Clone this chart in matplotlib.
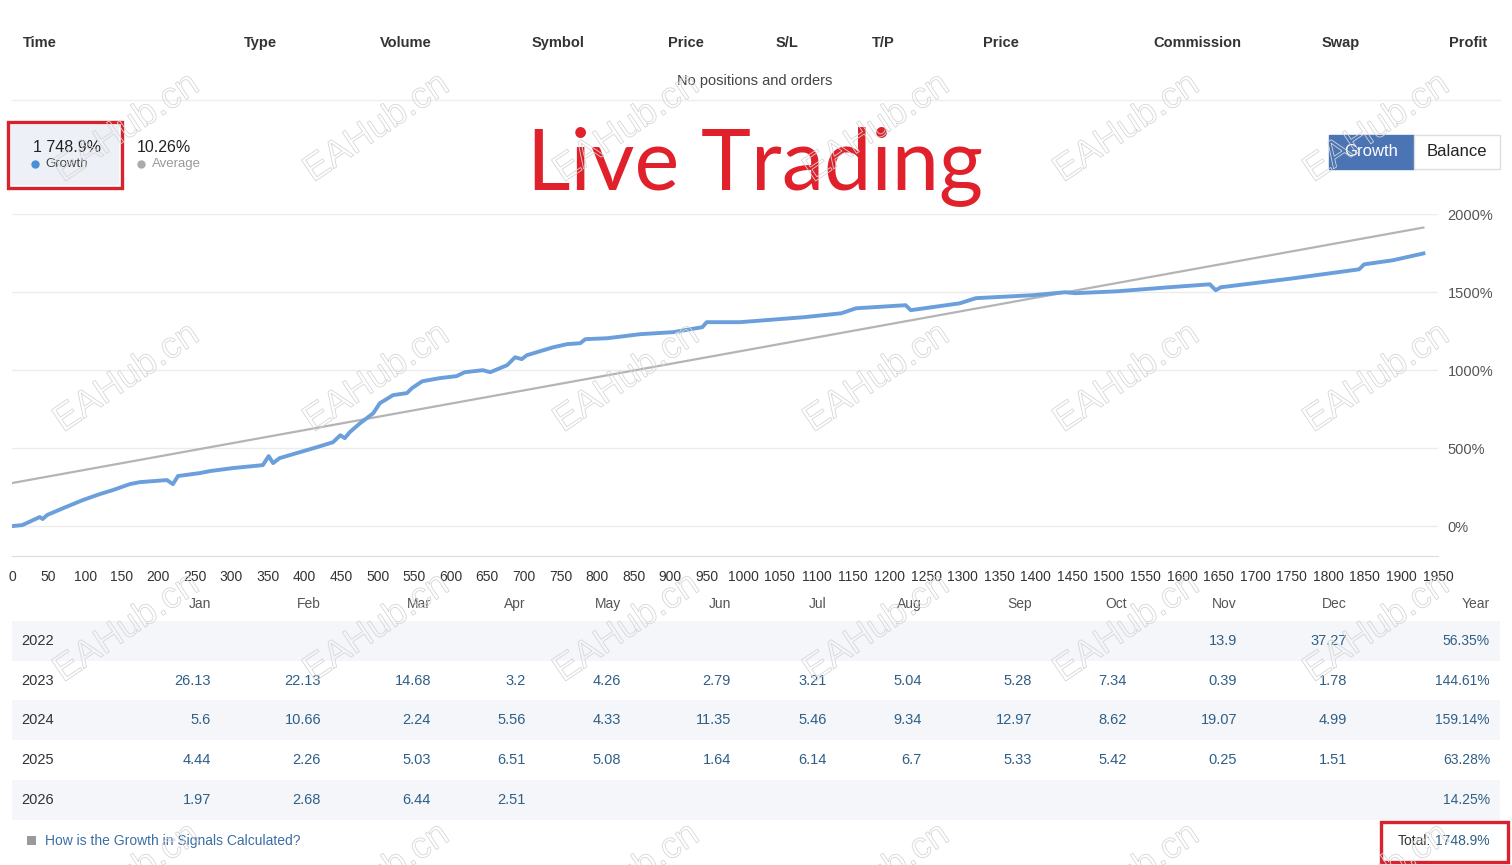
import matplotlib
matplotlib.use("Agg")
import matplotlib.pyplot as plt
from matplotlib import patches, transforms
from matplotlib.textpath import TextPath
from matplotlib.font_manager import FontProperties

# growth curve (x = deal number, y = growth %)
growth_x = [0, 14, 38, 42, 48, 70, 97, 120, 138, 161, 175, 212, 220, 227, 257, 271, 302, 343,
            351, 357, 366, 403, 417, 439, 449, 455, 462, 476, 494, 503, 521, 540, 547, 561,
            585, 608, 619, 644, 654, 677, 688, 697, 704, 740, 759, 777, 784, 814, 859, 904,
            944, 950, 995, 1012, 1083, 1134, 1154, 1222, 1229, 1296, 1318, 1396, 1440, 1454,
            1511, 1582, 1638, 1646, 1653, 1753, 1842, 1849, 1888, 1930]
growth_y = [0, 6, 58, 45, 71, 115, 167, 205, 231, 269, 282, 295, 269, 321, 340, 353, 372, 391,
            449, 404, 436, 487, 506, 538, 583, 564, 603, 660, 724, 788, 840, 853, 885, 929,
            949, 962, 987, 1000, 987, 1032, 1083, 1071, 1096, 1147, 1167, 1173, 1199, 1205,
            1231, 1244, 1276, 1308, 1308, 1314, 1340, 1365, 1397, 1417, 1385, 1429, 1462,
            1481, 1500, 1494, 1506, 1532, 1551, 1513, 1532, 1590, 1647, 1679, 1705, 1749]

# average line
avg_x = [0, 1930]
avg_y = [276, 1915]

x_ticks = list(range(0, 1951, 50))
y_ticks = [0, 500, 1000, 1500, 2000]

trade_cols = ["Time", "Type", "Volume", "Symbol", "Price", "S/L", "T/P", "Price",
              "Commission", "Swap", "Profit"]

months = ["Jan", "Feb", "Mar", "Apr", "May", "Jun", "Jul", "Aug", "Sep", "Oct", "Nov", "Dec"]
years = ["2022", "2023", "2024", "2025", "2026"]
monthly = [
    [None, None, None, None, None, None, None, None, None, None, "13.9", "37.27"],
    ["26.13", "22.13", "14.68", "3.2", "4.26", "2.79", "3.21", "5.04", "5.28", "7.34", "0.39", "1.78"],
    ["5.6", "10.66", "2.24", "5.56", "4.33", "11.35", "5.46", "9.34", "12.97", "8.62", "19.07", "4.99"],
    ["4.44", "2.26", "5.03", "6.51", "5.08", "1.64", "6.14", "6.7", "5.33", "5.42", "0.25", "1.51"],
    ["1.97", "2.68", "6.44", "2.51", None, None, None, None, None, None, None, None],
]
year_totals = ["56.35%", "144.61%", "159.14%", "63.28%", "14.25%"]

W, H = 1512, 865
UI = ["Liberation Sans", "DejaVu Sans"]
VAL_COLOR = "#2f5f86"
RED = "#d8232f"


def fx(x):
    return x / W


def fy(y):
    return 1 - y / H


def rect(x0, y0, x1, y1, **kw):
    r = patches.Rectangle((fx(x0), fy(y1)), fx(x1) - fx(x0), fy(y0) - fy(y1),
                          transform=fig.transFigure, **kw)
    fig.add_artist(r)
    return r


def dot(x, y, color):
    fig.add_artist(plt.Line2D([fx(x)], [fy(y)], marker="o", ms=5, color=color, lw=0,
                              transform=fig.transFigure))


fig = plt.figure(figsize=(W / 100, H / 100), dpi=100)
fig.patch.set_facecolor("white")

# ---- open positions header ----
col_x = [23, 244, 380, 532, 668, 776, 872, 983, 1153, 1322, 1449]
for name, x in zip(trade_cols, col_x):
    fig.text(fx(x), fy(43), name, fontsize=10.5, fontweight="bold", color="#333333",
             ha="left", va="center", family=UI)
fig.text(fx(755), fy(81), "No positions and orders", fontsize=10.5, color="#444444",
         ha="center", va="center", family=UI)
fig.add_artist(plt.Line2D([fx(12), fx(1500)], [fy(100), fy(100)], color="#eeeeee",
                          lw=1, transform=fig.transFigure))

# ---- stat boxes ----
rect(11, 125, 119, 185, facecolor="#edf0f7", edgecolor="none")
rect(8, 122, 122, 188, facecolor="none", edgecolor=RED, lw=2.4)
fig.text(fx(33), fy(147), "1 748.9%", fontsize=11.5, color="#222222", ha="left",
         va="center", family=UI)
dot(35, 164, "#4a90d9")
fig.text(fx(45), fy(164), "Growth", fontsize=9.5, color="#444444", ha="left", va="center",
         family=UI)
fig.text(fx(137), fy(147), "10.26%", fontsize=11.5, color="#222222", ha="left",
         va="center", family=UI)
dot(141, 164, "#aaaaaa")
fig.text(fx(152), fy(164), "Average", fontsize=9.5, color="#999999", ha="left",
         va="center", family=UI)

fig.text(fx(755), fy(166), "Live Trading", fontsize=61, color="#e0212c", ha="center",
         va="center", family=["Lato", "DejaVu Sans"])

# buttons
rect(1329, 135, 1414, 169, facecolor="#4a74b4", edgecolor="#4a74b4", lw=1)
rect(1414, 135, 1500, 169, facecolor="white", edgecolor="#dddddd", lw=1)
fig.text(fx(1371), fy(152), "Growth", fontsize=12, color="white", ha="center", va="center",
         family=UI)
fig.text(fx(1457), fy(152), "Balance", fontsize=12, color="#222222", ha="center",
         va="center", family=UI)

# ---- growth chart ----
ax = fig.add_axes([fx(12), fy(556), fx(1438) - fx(12), fy(214) - fy(556)])
ax.plot(avg_x, avg_y, color="#b4b4b4", lw=1.6, zorder=2)
ax.plot(growth_x, growth_y, color="#6a9fdc", lw=2.8, zorder=3, solid_joinstyle="round")
ax.set_xlim(0, 1950)
ax.set_ylim(-192, 2002)
ax.set_xticks(x_ticks)
ax.set_xticklabels([str(t) for t in x_ticks], family=UI, fontsize=10, color="#333333")
ax.set_yticks(y_ticks)
ax.set_yticklabels([f"{t}%" for t in y_ticks], family=UI, fontsize=10.5, color="#555555")
ax.yaxis.tick_right()
ax.tick_params(axis="both", length=0)
ax.tick_params(axis="x", pad=10)
ax.tick_params(axis="y", pad=7)
for lbl in ax.get_yticklabels():
    lbl.set_horizontalalignment("left")
ax.grid(axis="y", color="#ececec", lw=1)
for side in ["top", "left", "right"]:
    ax.spines[side].set_visible(False)
ax.spines["bottom"].set_color("#dddddd")
ax.set_facecolor("none")

# ---- monthly returns table ----
col_right = [211, 321, 431, 526, 621, 731, 827, 922, 1032, 1127, 1237, 1347]
row_y = [641, 681, 720, 760, 800]
for m, x in zip(months, col_right):
    fig.text(fx(x), fy(604), m, fontsize=10, color="#555555", ha="right", va="center",
             family=UI)
fig.text(fx(1490), fy(604), "Year", fontsize=10, color="#555555", ha="right", va="center",
         family=UI)

for i, (yr, vals, tot) in enumerate(zip(years, monthly, year_totals)):
    y = row_y[i]
    if i % 2 == 0:
        rect(12, y - 20, 1500, y + 20, facecolor="#f4f6fa", edgecolor="none")
    fig.text(fx(21), fy(y), yr, fontsize=10.5, color="#333333", ha="left", va="center",
             family=UI)
    for v, x in zip(vals, col_right):
        if v is not None:
            fig.text(fx(x), fy(y), v, fontsize=10.5, color=VAL_COLOR, ha="right",
                     va="center", family=UI)
    fig.text(fx(1490), fy(y), tot, fontsize=10, color=VAL_COLOR, ha="right", va="center",
             family=UI)

# footer
rect(27, 836, 36, 845, facecolor="#9a9a9a", edgecolor="none")
fig.text(fx(45), fy(841), "How is the Growth in Signals Calculated?", fontsize=10,
         color="#3b6ea5", ha="left", va="center", family=UI)
total_val = fig.text(fx(1490), fy(841), "1748.9%", fontsize=10, color=VAL_COLOR,
                     ha="right", va="center", family=UI)
fig.canvas.draw()
left_px = total_val.get_window_extent().x0
fig.text((left_px - 4) / W, fy(841), "Total:", fontsize=10, color="#333333", ha="right",
         va="center", family=UI)
rect(1381, 822, 1508, 862, facecolor="none", edgecolor=RED, lw=2.4)

# ---- watermark ----
wm = TextPath((0, 0), "EAHub.cn", size=37, prop=FontProperties(family="Liberation Sans"))
bb = wm.get_extents()
cx, cy = (bb.x0 + bb.x1) / 2, (bb.y0 + bb.y1) / 2
for wy in [125, 375, 625, 875]:
    for wx in [125, 375, 625, 875, 1125, 1375]:
        tr = transforms.Affine2D().translate(-cx, -cy).rotate_deg(34).translate(wx, H - wy)
        p = patches.PathPatch(wm, transform=tr, facecolor="none", edgecolor="#d6d6d6",
                              lw=0.6, zorder=20)
        fig.add_artist(p)

fig.savefig("out.png", dpi=100, facecolor="white")
